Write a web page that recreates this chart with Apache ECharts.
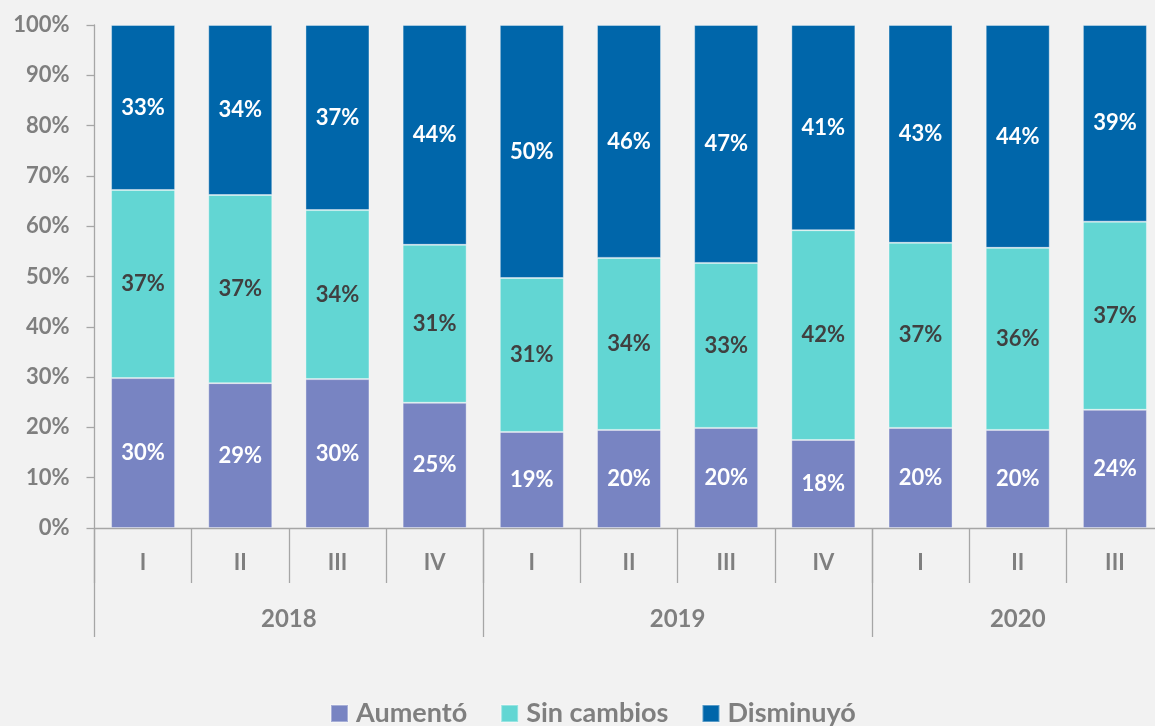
<!DOCTYPE html>
<html>
<head>
<meta charset="utf-8">
<script src="https://cdn.jsdelivr.net/npm/echarts@6/dist/echarts.min.js"></script>
<style>
  html, body { margin: 0; padding: 0; background: #F2F2F2; }
  #chart { width: 1155px; height: 726px; }
</style>
</head>
<body>
<div id="chart"></div>
<script>
const quarters = ['I', 'II', 'III', 'IV', 'I', 'II', 'III', 'IV', 'I', 'II', 'III'];
const years = ['2018', '2019', '2020'];
const yearCenters = [2, 6, 9.5];
const yearBounds = [0, 4, 8, 11];
const aumento = [29.8, 28.8, 29.6, 24.9, 19.1, 19.5, 19.9, 17.5, 19.9, 19.5, 23.5];
const sinCambios = [37.4, 37.4, 33.6, 31.4, 30.6, 34.2, 32.8, 41.7, 36.8, 36.2, 37.4];
const disminuyo = [32.8, 33.8, 36.8, 43.7, 50.3, 46.3, 47.3, 40.8, 43.3, 44.3, 39.1];
const yTicks = [0, 10, 20, 30, 40, 50, 60, 70, 80, 90, 100];

const FONT = 'Lato';
const axisGray = '#A6A6A6';
const textGray = '#7F7F7F';

function labelCfg(color) {
  return {
    show: true,
    position: 'inside',
    color: color,
    fontFamily: FONT,
    fontWeight: 'bold',
    fontSize: 22,
    formatter: p => Math.round(p.value) + '%'
  };
}

const chart = echarts.init(document.getElementById('chart'), null, { renderer: 'canvas' });
chart.setOption({
  backgroundColor: '#F2F2F2',
  animation: false,
  grid: { left: 94.5, width: 1069, top: 25, height: 503, containLabel: false, outerBoundsMode: 'none' },
  legend: {
    top: 695,
    left: 325,
    itemWidth: 17,
    itemHeight: 17,
    itemGap: 33,
    icon: 'rect',
    textStyle: { color: textGray, fontFamily: FONT, fontWeight: 'bold', fontSize: 27, padding: [0, 0, 0, 3] },
    data: ['Aumentó', 'Sin cambios', 'Disminuyó']
  },
  xAxis: [
    {
      type: 'category',
      data: quarters,
      position: 'bottom',
      axisLine: { show: true, lineStyle: { color: axisGray, width: 1.3 } },
      axisTick: { show: true, interval: 0, length: 55, lineStyle: { color: axisGray, width: 1.3 } },
      axisLabel: { interval: 0, margin: 24, color: textGray, fontFamily: FONT, fontWeight: 'bold', fontSize: 22 },
      splitLine: { show: false }
    },
    {
      type: 'value',
      min: 0,
      max: 11,
      position: 'bottom',
      axisLine: { show: false },
      axisTick: { show: true, customValues: yearBounds, length: 109, lineStyle: { color: axisGray, width: 1.3 } },
      axisLabel: {
        customValues: yearCenters,
        margin: 79,
        color: textGray, fontFamily: FONT, fontWeight: 'bold', fontSize: 24,
        formatter: v => years[yearCenters.indexOf(v)]
      },
      splitLine: { show: false }
    }
  ],
  yAxis: {
    type: 'value',
    min: 0,
    max: 100,
    interval: 10,
    axisLine: { show: true, lineStyle: { color: axisGray, width: 1.3 } },
    axisTick: { show: true, length: 8, lineStyle: { color: axisGray, width: 1.3 } },
    axisLabel: { margin: 25, color: textGray, fontFamily: FONT, fontWeight: 'bold', fontSize: 22,
      formatter: v => v + '%' },
    splitLine: { show: false }
  },
  series: [
    {
      name: 'Aumentó', type: 'bar', stack: 't', data: aumento, barWidth: 64,
      itemStyle: { color: '#7884C2', borderColor: 'rgba(255,255,255,0.35)', borderWidth: 1 },
      label: labelCfg('#FFFFFF')
    },
    {
      name: 'Sin cambios', type: 'bar', stack: 't', data: sinCambios, barWidth: 64,
      itemStyle: { color: '#62D6D3', borderColor: 'rgba(255,255,255,0.35)', borderWidth: 1 },
      label: labelCfg('#404040')
    },
    {
      name: 'Disminuyó', type: 'bar', stack: 't', data: disminuyo, barWidth: 64,
      itemStyle: { color: '#0066AA', borderColor: 'rgba(255,255,255,0.35)', borderWidth: 1 },
      label: labelCfg('#FFFFFF')
    }
  ]
});
</script>
</body>
</html>
